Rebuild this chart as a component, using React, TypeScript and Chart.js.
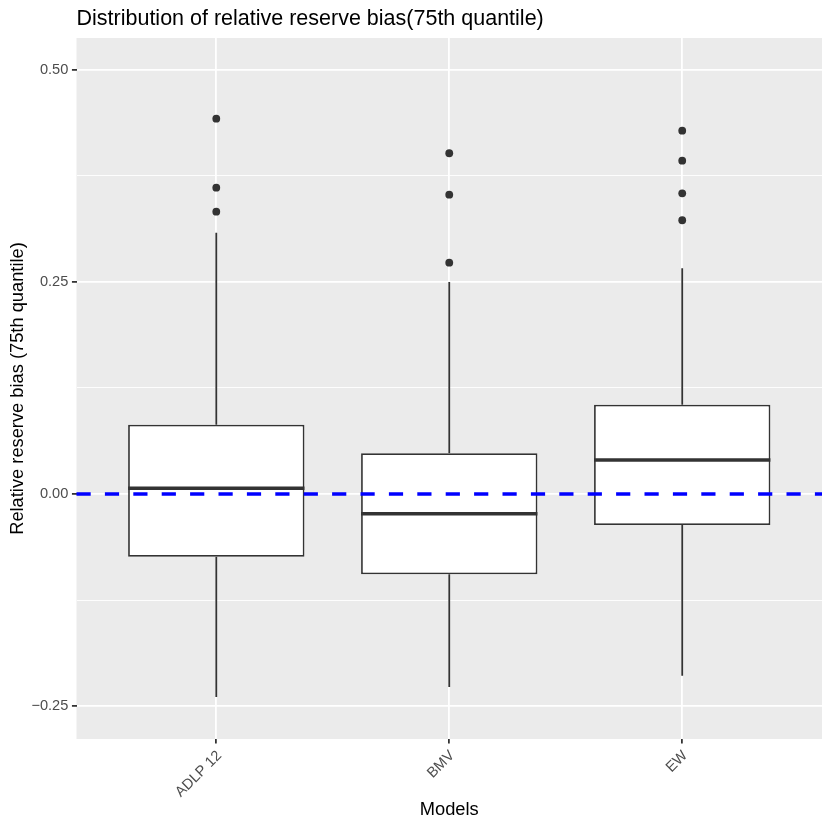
import React, { useEffect, useRef } from 'react';
import { Chart, registerables } from 'chart.js';

Chart.register(...registerables);

const FONT = "'Liberation Sans', Arial, Helvetica, sans-serif";

// ---- data ----
const categories = ['ADLP 12', 'BMV', 'EW'];
const q1 = [-0.0739, -0.0947, -0.0366];
const q3 = [0.0817, 0.048, 0.1053];
const medians = [0.0067, -0.0232, 0.0401];
const whiskerLow = [-0.2394, -0.2276, -0.2142];
const whiskerHigh = [0.3081, 0.25, 0.2662];
const outliersADLP = [0.4426, 0.3612, 0.3329];
const outliersBMV = [0.4018, 0.353, 0.2728];
const outliersEW = [0.4284, 0.393, 0.3546, 0.3228];
const yTicks = [-0.25, -0.125, 0, 0.125, 0.25, 0.375, 0.5];
const yTickLabels = ['\u22120.25', '', '0.00', '', '0.25', '', '0.50'];
const refLine = 0;

const outlierGroups = [outliersADLP, outliersBMV, outliersEW];

const boxPlugin = {
  id: 'boxParts',
  beforeDraw(chart: any) {
    const { ctx, chartArea: a } = chart;
    ctx.save();
    ctx.fillStyle = '#EBEBEB';
    ctx.fillRect(a.left, a.top, a.right - a.left, a.bottom - a.top);
    ctx.restore();
  },
  beforeDatasetsDraw(chart: any) {
    const { ctx, scales } = chart;
    const xs = scales.x;
    const ys = scales.y;
    ctx.save();
    ctx.strokeStyle = '#333333';
    ctx.lineWidth = 1.78;
    ctx.lineCap = 'butt';
    categories.forEach((_, i) => {
      const px = xs.getPixelForValue(i + 1);
      ctx.beginPath();
      ctx.moveTo(px, ys.getPixelForValue(q3[i]));
      ctx.lineTo(px, ys.getPixelForValue(whiskerHigh[i]));
      ctx.moveTo(px, ys.getPixelForValue(q1[i]));
      ctx.lineTo(px, ys.getPixelForValue(whiskerLow[i]));
      ctx.stroke();
    });
    ctx.restore();
  },
  afterDatasetsDraw(chart: any) {
    const { ctx, scales, chartArea: a } = chart;
    const ys = scales.y;
    const meta = chart.getDatasetMeta(0);
    ctx.save();
    ctx.strokeStyle = '#333333';
    ctx.lineWidth = 3.56;
    ctx.lineCap = 'butt';
    categories.forEach((_, i) => {
      const el: any = meta.data[i];
      const half = el.width / 2;
      const py = ys.getPixelForValue(medians[i]);
      ctx.beginPath();
      ctx.moveTo(el.x - half, py);
      ctx.lineTo(el.x + half, py);
      ctx.stroke();
    });
    // reference line
    const ry = ys.getPixelForValue(refLine);
    ctx.strokeStyle = '#0000FF';
    ctx.lineWidth = 3.56;
    ctx.setLineDash([14.2, 14.2]);
    ctx.lineDashOffset = 0;
    ctx.beginPath();
    ctx.moveTo(a.left, ry);
    ctx.lineTo(a.right, ry);
    ctx.stroke();
    ctx.restore();
  },
};

export default function App() {
  const ref = useRef<HTMLCanvasElement | null>(null);

  useEffect(() => {
    if (!ref.current) return;
    Chart.defaults.font.family = FONT;
    const outlierPoints: { x: number; y: number }[] = [];
    outlierGroups.forEach((g, i) => g.forEach((v) => outlierPoints.push({ x: i + 1, y: v })));

    const chart = new Chart(ref.current, {
      type: 'bar',
      data: {
        datasets: [
          {
            type: 'bar',
            data: categories.map((_, i) => ({ x: i + 1, y: [q1[i], q3[i]] })) as any,
            backgroundColor: '#FFFFFF',
            borderColor: '#333333',
            borderWidth: 1.78,
            borderSkipped: false,
            barPercentage: 0.757,
            categoryPercentage: 1,
          } as any,
          {
            type: 'scatter',
            data: outlierPoints,
            pointRadius: 3.9,
            pointHoverRadius: 3.9,
            pointBackgroundColor: '#333333',
            pointBorderWidth: 0,
            showLine: false,
          } as any,
        ],
      },
      options: {
        animation: false,
        responsive: false,
        events: [],
        layout: { padding: { left: 0, right: 8, top: 0, bottom: 0 } },
        plugins: {
          legend: { display: false },
          tooltip: { enabled: false },
          title: {
            display: true,
            text: 'Distribution of relative reserve bias(75th quantile)',
            align: 'start',
            fullSize: false,
            color: '#000000',
            font: { family: FONT, size: 21.5, weight: 'normal' },
            padding: { top: 6, bottom: 6.2 },
          },
        },
        scales: {
          x: {
            type: 'linear',
            min: 0.4,
            max: 3.6,
            offset: false,
            afterBuildTicks: (s: any) => {
              s.ticks = categories.map((_, i) => ({ value: i + 1 }));
            },
            afterFit: (s: any) => {
              s.height = 91;
            },
            ticks: {
              autoSkip: false,
              maxRotation: 45,
              minRotation: 45,
              labelOffset: 3,
              color: '#4D4D4D',
              font: { family: FONT, size: 14.6 },
              padding: 3.6,
              callback: (_v: any, i: number) => categories[i],
            },
            grid: {
              color: '#FFFFFF',
              lineWidth: 1.78,
              tickColor: '#333333',
              tickLength: 4.57,
              tickWidth: 1.78,
              offset: false,
            },
            border: { display: false },
            title: {
              display: true,
              text: 'Models',
              color: '#000000',
              font: { family: FONT, size: 18.3 },
              padding: { top: 0, bottom: 9 },
            },
          } as any,
          y: {
            type: 'linear',
            min: -0.2889,
            max: 0.5377,
            afterBuildTicks: (s: any) => {
              s.ticks = yTicks.map((v) => ({ value: v }));
            },
            afterFit: (s: any) => {
              s.width = 76.5;
            },
            ticks: {
              autoSkip: false,
              color: '#4D4D4D',
              font: { family: FONT, size: 14.6 },
              padding: 3.6,
              callback: (_v: any, i: number) => yTickLabels[i],
            },
            grid: {
              color: '#FFFFFF',
              lineWidth: (c: any) => (yTickLabels[c.index] ? 1.78 : 0.89),
              tickColor: (c: any) => (yTickLabels[c.index] ? '#333333' : 'rgba(0,0,0,0)'),
              tickLength: 4.57,
              tickWidth: 1.78,
            },
            border: { display: false },
            title: {
              display: true,
              text: 'Relative reserve bias (75th quantile)',
              color: '#000000',
              font: { family: FONT, size: 18.3 },
              padding: { top: 6.5, bottom: 0 },
            },
          } as any,
        },
      },
      plugins: [boxPlugin],
    });
    return () => chart.destroy();
  }, []);

  return (
    <div style={{ position: 'absolute', left: 0, top: 0, width: 830, height: 830, background: '#FFFFFF' }}>
      <canvas ref={ref} width={830} height={830} style={{ display: 'block', width: 830, height: 830 }} />
    </div>
  );
}
